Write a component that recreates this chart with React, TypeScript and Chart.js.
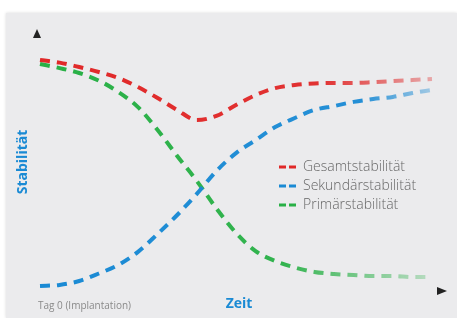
import React, { useEffect, useRef } from "react";
import { Chart, registerables } from "chart.js";

Chart.register(...registerables);

const timeSteps = [0, 5, 10, 15, 20, 25, 30, 35, 40, 45, 50, 55, 60, 65, 70, 75, 80, 85, 90, 95, 100];
const gesamt = [92.3, 91.3, 89.6, 87.7, 85.4, 81.9, 77.7, 73.1, 69.2, 70.8, 75, 78.8, 81.5, 82.7, 83.3, 83.5, 83.5, 83.8, 84.2, 84.6, 85];
const sekundaer = [5.4, 5.8, 7.3, 10.2, 13.5, 18.5, 25.4, 32.7, 40.8, 49.6, 56.5, 61.5, 66.5, 70, 73.1, 74.6, 76.2, 77.3, 78.1, 79.6, 80.8];
const primaer = [90.8, 89.2, 87.3, 84.4, 80, 74.2, 65.4, 55.4, 45.8, 35.2, 25.8, 18.8, 15, 12.5, 10.8, 10, 9.6, 9.2, 9.2, 8.8, 8.8];
const seriesLabels = ["Gesamtstabilität", "Sekundärstabilität", "Primärstabilität"];
const seriesRGB = ["224,40,40", "26,138,212", "40,176,70"];
const fadeStart = [0.72, 0.82, 0.62];
const fadeEnd = [0.35, 0.35, 0.25];
const yAxisTitle = "Stabilität";
const xAxisTitle = "Zeit";
const startLabel = "Tag 0 (Implantation)";

const decoPlugin = {
  id: "deco",
  afterDraw(chart: any) {
    const { ctx, chartArea } = chart;
    const { left, right, top, bottom } = chartArea;
    ctx.save();
    // arrows
    ctx.fillStyle = "#222";
    ctx.beginPath();
    ctx.moveTo(left - 3, top - 11);
    ctx.lineTo(left + 1, top - 2);
    ctx.lineTo(left - 7, top - 2);
    ctx.closePath();
    ctx.fill();
    ctx.beginPath();
    ctx.moveTo(right + 15, bottom - 9);
    ctx.lineTo(right + 5, bottom - 13);
    ctx.lineTo(right + 5, bottom - 5);
    ctx.closePath();
    ctx.fill();
    // axis titles
    ctx.fillStyle = "#1a8ad4";
    ctx.font = "bold 14px 'Open Sans'";
    ctx.textAlign = "center";
    ctx.textBaseline = "middle";
    ctx.fillText(xAxisTitle, 239, bottom + 4);
    ctx.save();
    ctx.translate(23, 162);
    ctx.rotate(-Math.PI / 2);
    ctx.fillText(yAxisTitle, 0, 0);
    ctx.restore();
    ctx.fillStyle = "#8a8a8a";
    ctx.font = "10px 'Open Sans'";
    ctx.textAlign = "left";
    ctx.fillText(startLabel, left - 2, bottom + 6);
    // legend
    const lx = 279;
    chart.data.datasets.forEach((ds: any, i: number) => {
      const y = 167 + i * 19;
      ctx.fillStyle = `rgb(${seriesRGB[i]})`;
      ctx.fillRect(lx, y - 1.5, 7, 3);
      ctx.fillRect(lx + 10, y - 1.5, 7, 3);
      ctx.fillStyle = "#666";
      ctx.font = "300 14px 'Open Sans'";
      ctx.textAlign = "left";
      ctx.textBaseline = "middle";
      ctx.fillText(ds.label, lx + 24, y);
    });
    ctx.restore();
  },
};

export default function App() {
  const ref = useRef<HTMLCanvasElement>(null);
  useEffect(() => {
    if (!ref.current) return;
    const series = [gesamt, sekundaer, primaer];
    const chart = new Chart(ref.current, {
      type: "line",
      data: {
        datasets: series.map((vals, i) => ({
          label: seriesLabels[i],
          data: vals.map((v, j) => ({ x: timeSteps[j], y: v })),
          borderColor: (c: any) => {
            const ca = c.chart.chartArea;
            if (!ca) return `rgb(${seriesRGB[i]})`;
            const g = c.chart.ctx.createLinearGradient(ca.left, 0, ca.right, 0);
            g.addColorStop(0, `rgba(${seriesRGB[i]},1)`);
            g.addColorStop(fadeStart[i], `rgba(${seriesRGB[i]},0.95)`);
            g.addColorStop(1, `rgba(${seriesRGB[i]},${fadeEnd[i]})`);
            return g;
          },
          borderWidth: 4,
          borderDash: [10, 7],
          borderCapStyle: "butt",
          pointRadius: 0,
          cubicInterpolationMode: "monotone",
          fill: false,
          clip: false,
        })) as any,
      },
      options: {
        animation: false,
        responsive: false,
        layout: { padding: { left: 40, right: 25, top: 40, bottom: 18 } },
        scales: {
          x: { type: "linear", min: 0, max: 100, display: false },
          y: { min: 0, max: 100, display: false },
        },
        plugins: { legend: { display: false }, tooltip: { enabled: false } },
      },
      plugins: [decoPlugin],
    });
    return () => chart.destroy();
  }, []);
  return (
    <div style={{ position: "fixed", left: 0, top: 0, width: 457, height: 318, background: "#fff", overflow: "hidden" }}>
      <div style={{ position: "absolute", left: 6, top: 13, right: 0, bottom: 0, background: "#ebebed", boxShadow: "0 0 3px rgba(0,0,0,0.15)" }} />
      <canvas ref={ref} width={457} height={318} style={{ position: "absolute", left: 0, top: 0 }} />
    </div>
  );
}
